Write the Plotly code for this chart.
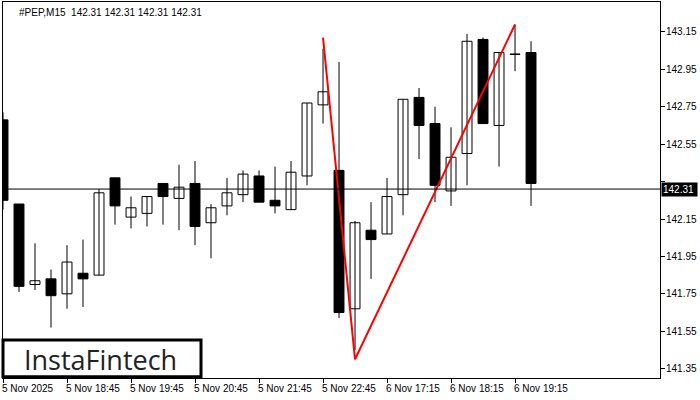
import plotly.graph_objects as go

opens = [142.68,142.23,141.80,141.83,141.75,141.86,141.85,142.37,142.16,142.18,142.34,142.26,142.34,142.13,142.22,142.28,142.38,142.25,142.20,142.38,142.76,142.41,141.67,142.09,142.07,142.28,142.80,142.66,142.30,142.50,143.11,142.65,143.03,143.04]
highs = [142.72,142.23,142.02,141.88,142.01,142.04,142.31,142.37,142.27,142.27,142.34,142.44,142.46,142.23,142.37,142.41,142.41,142.43,142.46,142.77,143.06,142.99,142.14,142.24,142.37,142.79,142.85,142.75,142.64,143.14,143.12,143.04,143.19,143.10]
lows = [142.20,141.76,141.77,141.57,141.67,141.68,141.85,142.12,142.10,142.11,142.12,142.09,142.01,141.94,142.17,142.24,142.24,142.18,142.20,142.33,142.66,141.62,141.45,141.83,142.07,142.17,142.47,142.24,142.22,142.33,142.66,142.43,142.94,142.22]
closes = [142.25,141.79,141.82,141.74,141.92,141.83,142.29,142.22,142.21,142.27,142.27,142.32,142.11,142.21,142.29,142.39,142.24,142.22,142.40,142.77,142.83,141.65,142.13,142.04,142.27,142.79,142.65,142.33,142.48,143.10,142.66,143.04,143.03,142.34]

pattern_idx = [20, 22, 32]
pattern_px = [143.12, 141.40, 143.19]

tick_idx = [0, 4, 8, 12, 16, 20, 24, 28, 32]
tick_text = ["5 Nov 2025", "5 Nov 18:45", "5 Nov 19:45", "5 Nov 20:45", "5 Nov 21:45",
             "5 Nov 22:45", "6 Nov 17:15", "6 Nov 18:15", "6 Nov 19:15"]
y_ticks = [141.35, 141.55, 141.75, 141.95, 142.15, 142.35, 142.55, 142.75, 142.95, 143.15]
current = 142.31

x = list(range(len(opens)))
fig = go.Figure()
wx, wy = [], []
for i in x:
    wx += [i, i, None]
    wy += [lows[i], highs[i], None]
fig.add_trace(go.Scatter(x=wx, y=wy, mode="lines", line=dict(color="black", width=1),
                         showlegend=False, hoverinfo="skip"))
base = [min(o, c) for o, c in zip(opens, closes)]
height = [max(abs(c - o), 0.002) for o, c in zip(opens, closes)]
fill = ["white" if c > o else "black" for o, c in zip(opens, closes)]
fig.add_trace(go.Bar(x=x, y=height, base=base, width=0.62,
                     marker=dict(color=fill, line=dict(color="black", width=1)),
                     showlegend=False, hoverinfo="skip"))
fig.add_trace(go.Scatter(x=pattern_idx, y=pattern_px, mode="lines",
                         line=dict(color="#ff0000", width=2), showlegend=False))
fig.add_hline(y=current, line=dict(color="black", width=1))

font = dict(family="Liberation Sans, Arial", size=10, color="black")
fig.update_layout(
    width=700, height=400, margin=dict(l=3, r=40, t=2, b=22),
    paper_bgcolor="white", plot_bgcolor="white",
    xaxis=dict(range=[0, 41.06], tickvals=tick_idx, ticktext=[""] * len(tick_idx),
               ticks="outside", ticklen=4, tickcolor="black", showgrid=False,
               showline=True, linecolor="black", mirror=True, zeroline=False,
               automargin=False, fixedrange=True),
    yaxis=dict(range=[141.30, 143.31], side="right", tickvals=y_ticks,
               ticktext=[""] * len(y_ticks), ticks="outside", ticklen=4,
               tickcolor="black", showgrid=False, showline=True, automargin=False,
               linecolor="black", mirror=True, zeroline=False),
    font=font,
)
for i, t in zip(tick_idx, tick_text):
    fig.add_annotation(x=i, y=0, xref="x", yref="paper", yanchor="top", xanchor="left",
                       xshift=-3, yshift=-3, text=t, showarrow=False, font=font)
for v in y_ticks:
    if abs(v - current) < 0.1:
        continue  # hidden behind the current-price label, as in the reference
    fig.add_annotation(x=1, xref="paper", y=v, yref="y", xanchor="left", xshift=4,
                       text=f"{v:.2f}", showarrow=False, font=font)
fig.add_annotation(x=1, xref="paper", y=current, yref="y", xanchor="left", xshift=1,
                   text=f"{current:.2f} ", showarrow=False, bgcolor="black",
                   font=dict(family="Liberation Sans, Arial", size=10, color="white"),
                   borderpad=1)
fig.add_annotation(x=0, y=1, xref="paper", yref="paper", xanchor="left", yanchor="top",
                   xshift=14, yshift=-3, text="#PEP,M15  142.31 142.31 142.31 142.31",
                   showarrow=False, font=font)
fig.add_shape(type="rect", xref="paper", yref="paper", x0=0, x1=198 / 657, y0=0.003,
              y1=38 / 376, line=dict(color="black", width=3), fillcolor="white")
fig.add_annotation(x=97 / 657, y=19 / 376, xref="paper", yref="paper", text="InstaFintech",
                   xanchor="center", yanchor="middle", showarrow=False,
                   font=dict(family="Open Sans, Arial", size=27, color="#222"))
fig.write_html("out.html", post_script="document.body.style.margin='0';",
               config={"displayModeBar": False})
